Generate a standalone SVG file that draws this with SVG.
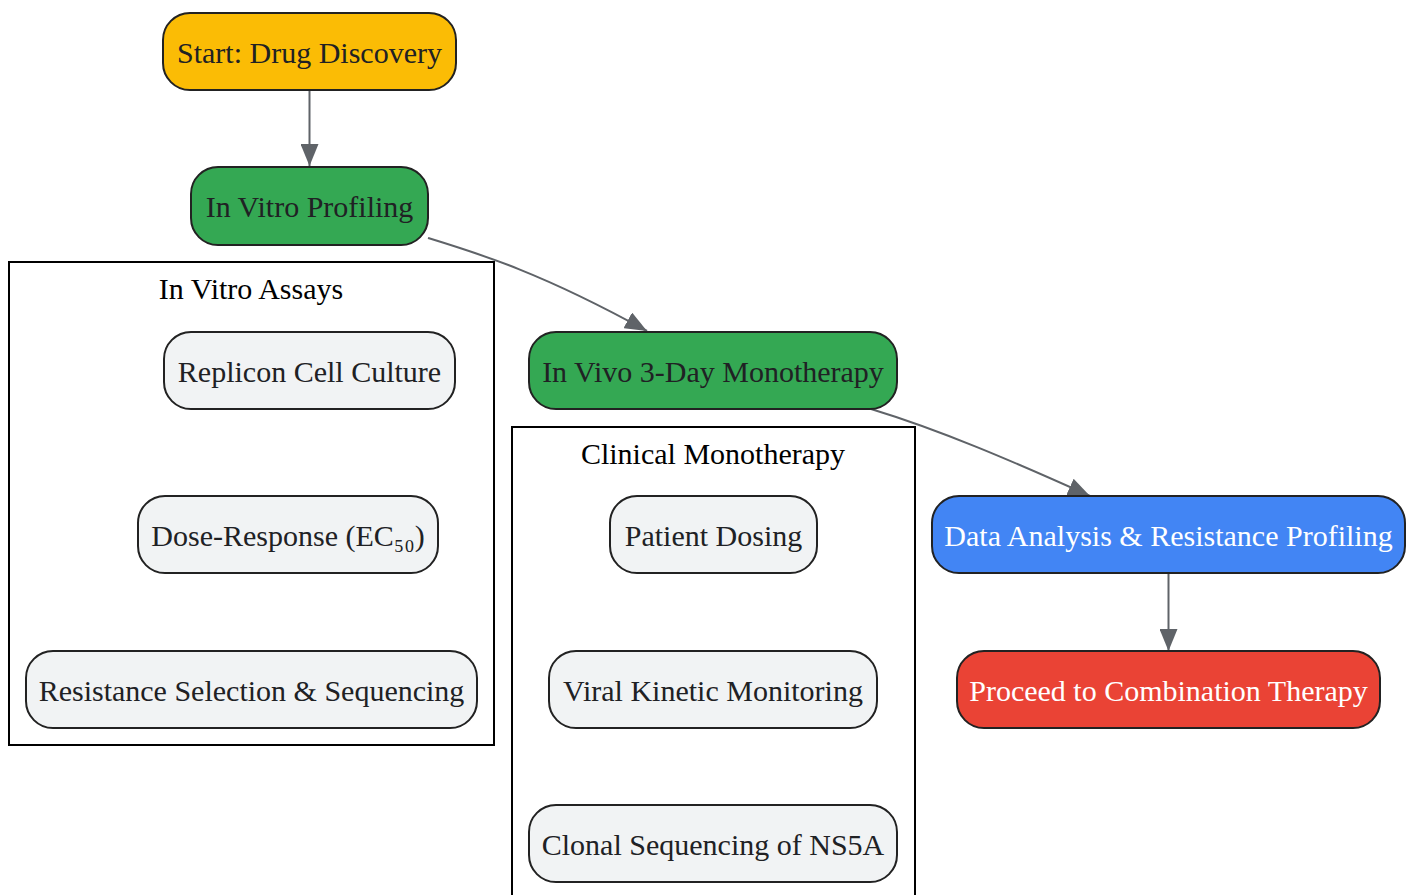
<svg xmlns="http://www.w3.org/2000/svg" width="1414" height="895" viewBox="0 0 1414 895">
<defs>
<marker id="ah" markerWidth="22" markerHeight="18" refX="22" refY="9" orient="auto" markerUnits="userSpaceOnUse" viewBox="0 0 22 18">
<path d="M0,0 L22,9 L0,18 Z" fill="#5f6368"/>
</marker>
<style>
.n rect{stroke:#222;stroke-width:2}
.n text{font-family:"Liberation Serif","Times New Roman",serif;font-size:30px;text-anchor:middle;fill:#202124}
.w text{fill:#ffffff}
.c rect{fill:none;stroke:#000;stroke-width:2}
.c text{font-family:"Liberation Serif","Times New Roman",serif;font-size:30px;text-anchor:middle;fill:#000}
.e path{fill:none;stroke:#5f6368;stroke-width:2}
.g{fill:#f1f3f4}
</style>
</defs>
<rect width="1414" height="895" fill="#fff"/>
<g id="cluster_invitro" class="c"><rect x="9" y="262" width="485" height="483"/><text x="251" y="299">In Vitro Assays</text></g>
<g id="cluster_clinical" class="c"><rect x="512" y="427" width="403" height="480"/><text x="713" y="464">Clinical Monotherapy</text></g>
<g id="edges" class="e">
<path d="M309.5,91 L309.5,166" marker-end="url(#ah)"/>
<path d="M428,238 C480,254 540,272 647,331" marker-end="url(#ah)"/>
<path d="M871,409 C940,430 1010,460 1090,496" marker-end="url(#ah)"/>
<path d="M1168.5,574 L1168.5,651" marker-end="url(#ah)"/>
</g>
<g id="start" class="n"><rect x="163" y="13" width="293" height="77" rx="27" fill="#fbbc05"/><text x="309.5" y="63">Start: Drug Discovery</text></g>
<g id="invitro" class="n"><rect x="191" y="167" width="237" height="78" rx="27" fill="#34a853"/><text x="309.5" y="217">In Vitro Profiling</text></g>
<g id="replicon" class="n"><rect class="g" x="164" y="332" width="291" height="77" rx="27"/><text x="309.5" y="382">Replicon Cell Culture</text></g>
<g id="dose" class="n"><rect class="g" x="138" y="496" width="300" height="77" rx="27"/><text x="288" y="546">Dose-Response (EC₅₀)</text></g>
<g id="resist" class="n"><rect class="g" x="26" y="651" width="451" height="77" rx="27"/><text x="251.5" y="701">Resistance Selection &amp; Sequencing</text></g>
<g id="invivo" class="n"><rect x="529" y="332" width="368" height="77" rx="27" fill="#34a853"/><text x="713" y="382">In Vivo 3-Day Monotherapy</text></g>
<g id="dosing" class="n"><rect class="g" x="610" y="496" width="207" height="77" rx="27"/><text x="713.5" y="546">Patient Dosing</text></g>
<g id="viral" class="n"><rect class="g" x="549" y="651" width="328" height="77" rx="27"/><text x="713" y="701">Viral Kinetic Monitoring</text></g>
<g id="clonal" class="n"><rect class="g" x="529" y="805" width="368" height="77" rx="27"/><text x="713" y="855">Clonal Sequencing of NS5A</text></g>
<g id="data" class="n w"><rect x="932" y="496" width="473" height="77" rx="27" fill="#4285f4"/><text x="1168.5" y="546">Data Analysis &amp; Resistance Profiling</text></g>
<g id="proceed" class="n w"><rect x="957" y="651" width="423" height="77" rx="27" fill="#ea4335"/><text x="1168.5" y="701">Proceed to Combination Therapy</text></g>
</svg>
